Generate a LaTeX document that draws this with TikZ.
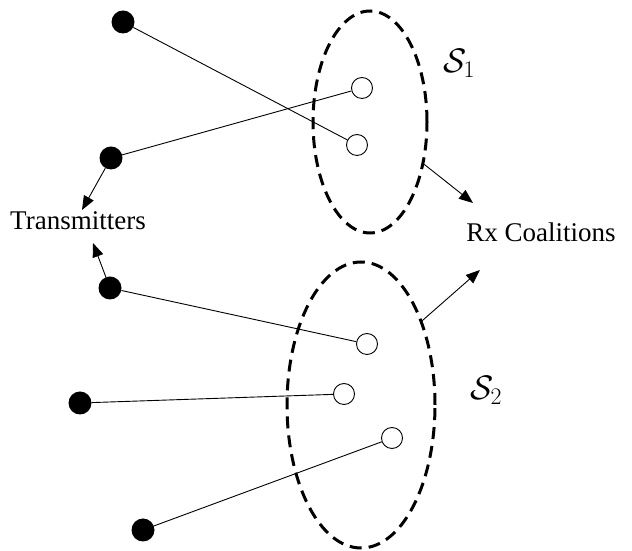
\RequirePackage{fix-cm}
\documentclass[tikz,border=0pt]{standalone}
\usepackage{fontspec}
\setmainfont{Liberation Serif}
\usetikzlibrary{arrows.meta,shapes.geometric}

\tikzset{
  tx/.style={circle,fill=black,inner sep=0pt,minimum size=23pt},
  rx/.style={circle,draw=black,fill=white,line width=0.9pt,inner sep=0pt,minimum size=21pt},
  coal/.style={ellipse,draw,dash pattern=on 12pt off 7pt,line width=3pt,inner sep=0pt},
  link/.style={line width=0.9pt},
  lbl/.style={font=\fontsize{27}{32}\selectfont},
  setlbl/.style={font=\fontsize{34}{40}\selectfont},
}

\begin{document}
\begin{tikzpicture}[x=1pt,y=1pt,>={Triangle[length=14pt,width=11pt]}]
            \useasboundingbox (0,0) rectangle (632,551);
            % coalitions
            \node[coal,minimum width=114pt,minimum height=222pt] (S1) at (370,429) {};
            \node[coal,minimum width=148pt,minimum height=286pt] (S2) at (361,146) {};
            \node[setlbl] (s1) at (459,488) {$\mathcal{S}_1$};
            \node[setlbl] (s2) at (486,161) {$\mathcal{S}_2$};
            % transmitters and receivers
            \node[tx] (t1) at (123,529) {};
            \node[tx] (t2) at (111,393) {};
            \node[tx] (t3) at (110,263) {};
            \node[tx] (t4) at (80,148) {};
            \node[tx] (t5) at (143,21) {};
            \node[rx] (r1) at (362,463) {};
            \node[rx] (r2) at (357,406) {};
            \node[rx] (r3) at (367,207) {};
            \node[rx] (r4) at (344,157) {};
            \node[rx] (r5) at (392,113) {};
            \draw[link] (t1)--(r2);
            \draw[link] (t2)--(r1);
            \draw[link] (t3)--(r3);
            \draw[link] (t4)--(r4);
            \draw[link] (t5)--(r5);
            % labels
            \node[lbl] (txl) at (78,330) {Transmitters};
            \node[lbl] (rxl) at (541,319) {Rx Coalitions};
            \coordinate (a1) at (82,341);
            \coordinate (a2) at (93,308);
            \coordinate (b1) at (473,348);
            \coordinate (b2) at (480,281);
            \draw[->,link] (t2)--(a1);
            \draw[->,link] (t3)--(a2);
            \draw[->,link] (S1.-38)--(b1);
            \draw[->,link] (S2.54)--(b2);
\end{tikzpicture}
\end{document}
